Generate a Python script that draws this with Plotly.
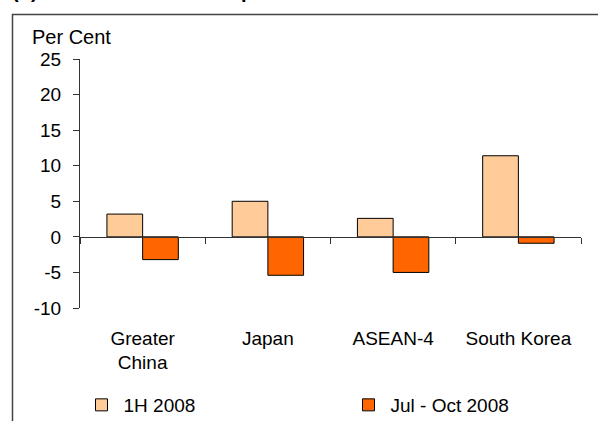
import plotly.graph_objects as go

# ---- data ----
categories = ["Greater<br>China", "Japan", "ASEAN-4", "South Korea"]
series_names = ["1H 2008", "Jul - Oct 2008"]
h1_2008 = [3.2, 5.0, 2.6, 11.4]
jul_oct_2008 = [-3.2, -5.4, -5.0, -0.9]
y_ticks = [-10, -5, 0, 5, 10, 15, 20, 25]
y_tick_labels = ["-10", "-5", "0", "5", "10", "15", "20", "25"]
title_text = "<b>(b) Non-Oil Domestic Exports</b>"
y_label = "Per Cent"

FONT = "Liberation Sans, Arial, sans-serif"
W, H = 598, 421
ML, MR, MT, MB = 80, 17, 59, 113
PW, PH = W - ML - MR, H - MT - MB


def px_x(x):
    return (x - ML) / PW


def px_y(y):
    return (H - MB - y) / PH


fig = go.Figure()
fig.add_trace(go.Bar(x=categories, y=h1_2008, name=series_names[0],
                     marker=dict(color="#FFCC99", line=dict(color="#000000", width=1))))
fig.add_trace(go.Bar(x=categories, y=jul_oct_2008, name=series_names[1],
                     marker=dict(color="#FF6600", line=dict(color="#000000", width=1))))

ymin, ymax = y_ticks[0], y_ticks[-1]
zero_pos = (0 - ymin) / (ymax - ymin)

fig.update_layout(
    width=W, height=H,
    margin=dict(l=ML, r=MR, t=MT, b=MB, autoexpand=False),
    paper_bgcolor="white", plot_bgcolor="white",
    font=dict(family=FONT, size=19, color="#000000"),
    barmode="group", bargap=0.43, bargroupgap=0,
    showlegend=True,
    legend=dict(orientation="h", x=px_x(79.5), xanchor="left", y=px_y(386), yanchor="top",
                itemwidth=34, entrywidth=218, entrywidthmode="pixels", font=dict(size=19),
                bgcolor="rgba(0,0,0,0)", traceorder="normal"),
    xaxis=dict(type="category", anchor="free", position=zero_pos,
               showline=True, linecolor="#333333", linewidth=1,
               ticks="outside", tickson="boundaries", ticklen=6, tickcolor="#333333",
               ticklabelstandoff=84, showgrid=False, zeroline=False,
               tickfont=dict(size=19)),
    yaxis=dict(range=[ymin, ymax], tickvals=y_ticks, ticktext=y_tick_labels,
               showline=True, linecolor="#333333",
               linewidth=1, ticks="outside", ticklen=6, tickcolor="#333333",
               ticklabelstandoff=8, showgrid=False, zeroline=False,
               tickfont=dict(size=19)),
)

# frame around the chart
fig.add_shape(type="rect", xref="paper", yref="paper",
              x0=px_x(12.5), x1=px_x(640), y0=px_y(460), y1=px_y(14.5),
              line=dict(color="#444444", width=1.5), fillcolor="rgba(0,0,0,0)", layer="below")

fig.add_annotation(text=y_label, xref="paper", yref="paper", x=px_x(30), y=px_y(37),
                   xanchor="left", yanchor="middle", showarrow=False, font=dict(size=20))
fig.add_annotation(text=title_text, xref="paper", yref="paper", x=px_x(10), y=px_y(4),
                   xanchor="left", yanchor="bottom", showarrow=False, font=dict(size=20))

fig.write_html("out.html", config={"displayModeBar": False},
               post_script="document.body.style.margin='0px';document.body.style.overflow='hidden';")
